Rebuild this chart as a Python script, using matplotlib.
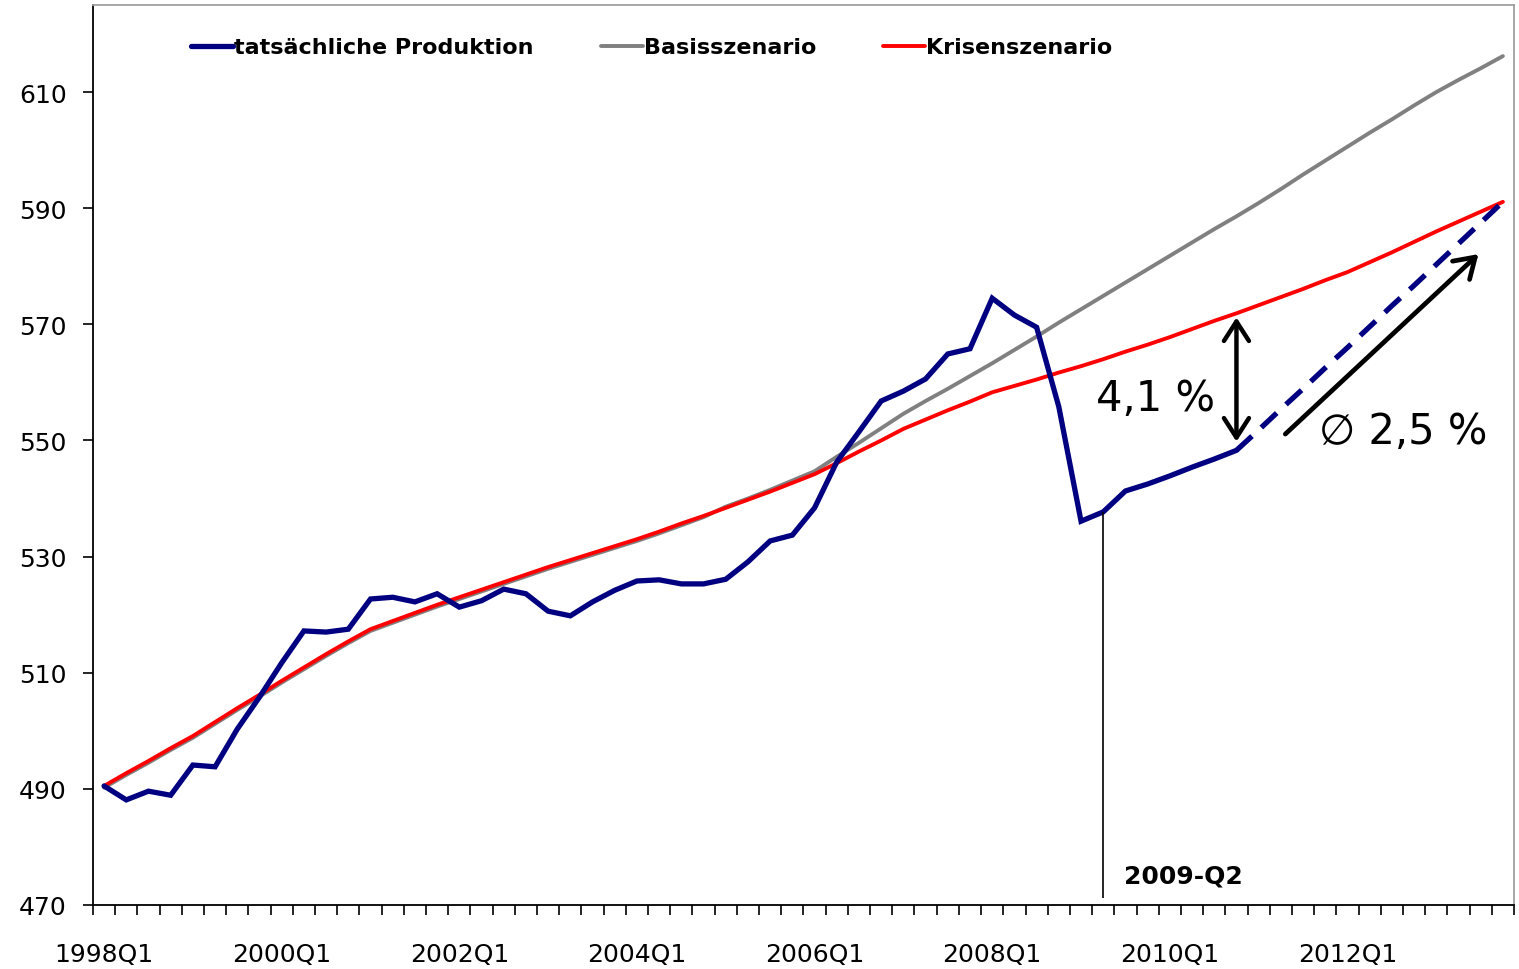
import matplotlib.pyplot as plt

# Quarterly categories 1998Q1 .. 2013Q4
quarters = [f'{y}Q{q}' for y in range(1998, 2014) for q in range(1, 5)]
tick_labels = ['1998Q1', '2000Q1', '2002Q1', '2004Q1', '2006Q1', '2008Q1', '2010Q1', '2012Q1']

# Actual production up to 2010Q4
actual = [490.5, 488.1, 489.6, 488.9, 494.1, 493.8, 500.3, 505.8, 511.7, 517.2,
          517.0, 517.5, 522.7, 523.0, 522.2, 523.6, 521.3, 522.4, 524.4, 523.6,
          520.6, 519.8, 522.2, 524.2, 525.8, 526.0, 525.3, 525.3, 526.1, 529.1,
          532.7, 533.7, 538.4, 546.3, 551.5, 556.8, 558.5, 560.6, 564.9, 565.8,
          574.5, 571.6, 569.5, 555.8, 536.1, 537.7, 541.3, 542.5, 543.9, 545.4,
          546.8, 548.3]
# Projection 2010Q4 .. 2013Q4 (avg 2.5 % growth)
projection = [548.3, 551.8, 555.4, 558.9, 562.5, 566.0, 569.6, 573.2, 576.7,
              580.3, 583.9, 587.5, 591.1]

basis = [490.2, 492.4, 494.5, 496.7, 498.8, 501.2, 503.6, 505.9, 508.3, 510.6,
         512.9, 515.1, 517.2, 518.6, 520.0, 521.4, 522.7, 524.0, 525.3, 526.6,
         527.9, 529.1, 530.3, 531.5, 532.7, 534.0, 535.4, 536.8, 538.6, 540.0,
         541.5, 543.1, 544.7, 547.2, 549.6, 552.1, 554.6, 556.8, 558.9, 561.1,
         563.3, 565.6, 567.9, 570.3, 572.6, 574.9, 577.2, 579.5, 581.8, 584.1,
         586.4, 588.6, 590.9, 593.3, 595.8, 598.2, 600.6, 603.0, 605.3, 607.7,
         610.0, 612.1, 614.1, 616.2]

crisis = [490.5, 492.7, 494.8, 497.0, 499.1, 501.5, 503.9, 506.2, 508.6, 510.9,
          513.2, 515.4, 517.5, 518.9, 520.3, 521.7, 523.0, 524.3, 525.6, 526.9,
          528.2, 529.4, 530.6, 531.8, 533.0, 534.3, 535.7, 537.0, 538.4, 539.8,
          541.2, 542.7, 544.2, 546.1, 548.1, 550.0, 552.0, 553.6, 555.2, 556.7,
          558.3, 559.4, 560.5, 561.7, 562.8, 564.0, 565.3, 566.5, 567.8, 569.2,
          570.6, 571.9, 573.3, 574.7, 576.1, 577.6, 579.0, 580.7, 582.4, 584.2,
          586.0, 587.7, 589.4, 591.1]

plt.rcParams['font.family'] = ['DejaVu Sans']

x_all = list(range(len(quarters)))
x_act = x_all[:len(actual)]
x_proj = x_all[len(actual) - 1:]

fig = plt.figure(figsize=(15.19, 9.70), dpi=100)
ax = fig.add_axes([0.0612, 0.066, 0.9355, 0.9278])

ax.plot(x_all, basis, color='#808080', lw=2.8, label='Basisszenario', zorder=2,
        solid_capstyle='round')
ax.plot(x_all, crisis, color='#FF0000', lw=2.8, label='Krisenszenario', zorder=3,
        solid_capstyle='round')
ax.plot(x_act, actual, color='#000080', lw=3.8, label='tatsächliche Produktion',
        zorder=4, solid_joinstyle='miter', solid_capstyle='round')
ax.plot(x_proj, projection, color='#000080', lw=3.8, ls=(0, (4, 2.4)), zorder=4)

# Marker line for 2009-Q2
i_q2 = quarters.index('2009Q2')
ax.vlines(i_q2, 471.2, actual[i_q2], color='black', lw=1.2, zorder=5)
ax.text(i_q2 + 0.95, 475, '2009-Q2', fontsize=18, fontweight='bold',
        ha='left', va='center')

# Gap arrow 4,1 %
i_gap = quarters.index('2010Q4')
ax.annotate('', xy=(i_gap, 549.8), xytext=(i_gap, 571.2),
            arrowprops=dict(arrowstyle='<->,head_length=0.7,head_width=0.45',
                            mutation_scale=20, color='black', lw=3.2,
                            shrinkA=0, shrinkB=0))
ax.text(i_gap - 0.95, 557.3, '4,1 %', fontsize=30, ha='right', va='center')

# Growth arrow
ax.annotate('', xy=(61.9, 582.1), xytext=(53.2, 551.1),
            arrowprops=dict(arrowstyle='->,head_length=0.7,head_width=0.45',
                            mutation_scale=20, color='black', lw=3.4,
                            shrinkA=0, shrinkB=0))
ax.text(54.7, 551.6, '\u2205 2,5 %', fontsize=30, ha='left', va='center')

# Axes formatting
ax.set_xlim(-0.5, len(quarters) - 0.5)
ax.set_ylim(470, 625)
ax.set_yticks(range(470, 611, 20))
ax.set_xticks([quarters.index(t) for t in tick_labels])
ax.set_xticklabels(tick_labels)
ax.set_xticks([k - 0.5 for k in range(len(quarters) + 1)], minor=True)
ax.tick_params(axis='x', which='major', length=0, pad=27, labelsize=18)
ax.tick_params(axis='x', which='minor', length=7, width=1.2, direction='out')
ax.tick_params(axis='y', length=7, width=1.2, pad=12, labelsize=18)
for s in ['left', 'bottom']:
    ax.spines[s].set_color('black')
    ax.spines[s].set_linewidth(1.3)
for s in ['top', 'right']:
    ax.spines[s].set_color('#A0A0A0')
    ax.spines[s].set_linewidth(1.3)

handles, labels = ax.get_legend_handles_labels()
order = [2, 0, 1]
leg = ax.legend([handles[k] for k in order], [labels[k] for k in order],
                loc='center left', bbox_to_anchor=(0.0612, 0.953), ncol=3,
                frameon=False, borderpad=0, handlelength=1.9, handletextpad=0.05,
                columnspacing=3.0, prop={'size': 16, 'weight': 'bold'})

fig.savefig('out.png', dpi=100)
